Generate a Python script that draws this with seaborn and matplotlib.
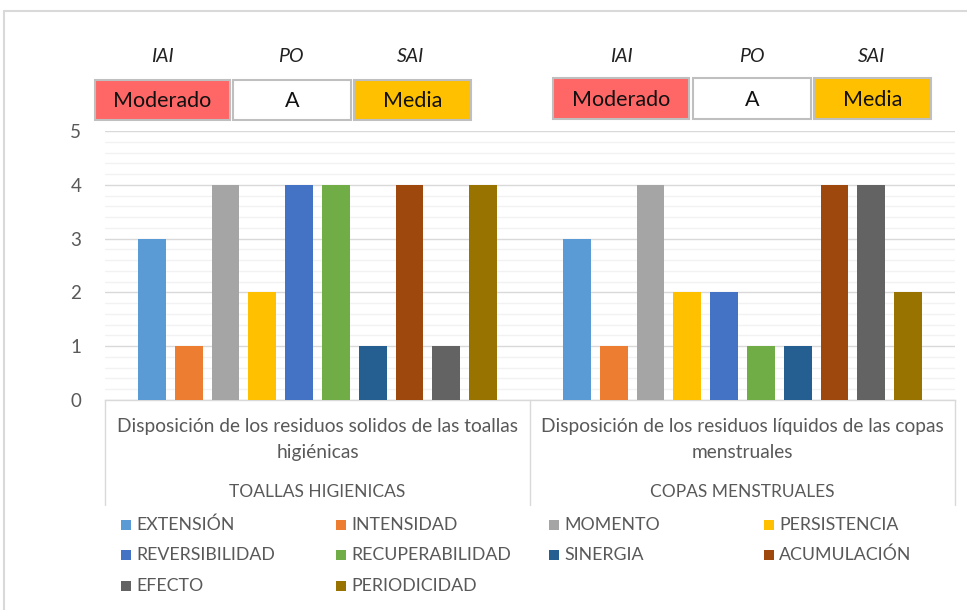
import matplotlib
matplotlib.use("Agg")
import matplotlib.pyplot as plt
import matplotlib.transforms as mtransforms
from matplotlib.patches import Rectangle
from matplotlib.lines import Line2D
import seaborn as sns
import pandas as pd

# ---- data ----
groups = [
    "Disposición de los residuos solidos de las toallas\nhigiénicas",
    "Disposición de los residuos líquidos de las copas\nmenstruales",
]
outer_labels = ["TOALLAS HIGIENICAS", "COPAS MENSTRUALES"]
criteria = ["EXTENSIÓN", "INTENSIDAD", "MOMENTO", "PERSISTENCIA",
            "REVERSIBILIDAD", "RECUPERABILIDAD", "SINERGIA", "ACUMULACIÓN",
            "EFECTO", "PERIODICIDAD"]
toallas_vals = [3, 1, 4, 2, 4, 4, 1, 4, 1, 4]
copas_vals = [3, 1, 4, 2, 2, 1, 1, 4, 4, 2]
colors = ["#5B9BD5", "#ED7D31", "#A5A5A5", "#FFC000", "#4472C4",
          "#70AD47", "#255E91", "#9E480E", "#636363", "#997300"]
header_titles = ["IAI", "PO", "SAI"]
header_values = ["Moderado", "A", "Media"]
header_colors = ["#FF6666", "#FFFFFF", "#FFC000"]

df = pd.DataFrame({
    "grupo": [groups[0]] * len(criteria) + [groups[1]] * len(criteria),
    "criterio": criteria * 2,
    "valor": toallas_vals + copas_vals,
})

sns.set_theme(style="white")
plt.rcParams["font.family"] = ["Lato", "DejaVu Sans"]

W, H = 967, 610
fig = plt.figure(figsize=(W / 100, H / 100), dpi=100)


def fx(x):
    return x / W


def fy(y):
    return 1 - y / H


ax = fig.add_axes([fx(105), fy(400), fx(955) - fx(105), fy(131) - fy(400)])

sns.barplot(data=df, x="grupo", y="valor", hue="criterio", order=groups,
            hue_order=criteria, palette=colors, width=0.866, gap=0.24,
            saturation=1, legend=False, ax=ax, zorder=3, linewidth=0)

ax.set_xlim(-0.5, 1.5)
ax.set_ylim(0, 5)
ax.set_yticks(range(0, 6))
ax.set_yticks([i * 0.2 for i in range(26)], minor=True)
ax.grid(axis="y", which="minor", color="#F2F2F2", lw=1.0, zorder=0)
ax.grid(axis="y", which="major", color="#D9D9D9", lw=1.0, zorder=1)
for s in ["left", "right", "top"]:
    ax.spines[s].set_visible(False)
ax.spines["bottom"].set_color("#D9D9D9")
ax.spines["bottom"].set_linewidth(1.0)
ax.tick_params(axis="y", which="both", length=0, labelsize=13.5,
               labelcolor="#595959", pad=17)
ax.tick_params(axis="x", length=0, labelsize=13.8, labelcolor="#595959", pad=13)
for lbl in ax.get_xticklabels():
    lbl.set_linespacing(1.65)
ax.set_xlabel("")
ax.set_ylabel("")

# multi-level category axis: dividers and outer labels
trans = mtransforms.blended_transform_factory(ax.transData, ax.transAxes)
depth = -105 / 269
for xd in [-0.5, 0.5, 1.5]:
    ax.add_line(Line2D([xd, xd], [0, depth], transform=trans, color="#D9D9D9",
                       lw=1.0, clip_on=False))
for i, lab in enumerate(outer_labels):
    ax.text(i, -92 / 269, lab, transform=trans, ha="center", va="center",
            fontsize=12.5, color="#595959")

# header boxes above each group
box_sets = [
    ([(95, 230), (233, 351), (354, 471)], (80, 120), [162, 291, 411]),
    ([(553, 689), (693, 811), (814, 931)], (78, 119), [621, 752, 872]),
]
for boxes, (y0, y1), title_x in box_sets:
    for (x0, x1), tx, title, val, col in zip(boxes, title_x, header_titles,
                                             header_values, header_colors):
        fig.patches.append(Rectangle((fx(x0), fy(y1)), fx(x1) - fx(x0),
                                     fy(y0) - fy(y1), transform=fig.transFigure,
                                     facecolor=col, edgecolor="#BFBFBF", lw=1.5))
        fig.text(fx((x0 + x1) / 2), fy((y0 + y1) / 2 + 1), val, ha="center",
                 va="center", fontsize=15.5, color="#111111")
        fig.text(fx(tx), fy(57), title, ha="center", va="center",
                 fontsize=14, style="italic", color="#222222")

# legend laid out in rows of four
col_x = [121, 336, 549, 764]
row_y = [525, 555, 586]
for k, (name, col) in enumerate(zip(criteria, colors)):
    r, c = divmod(k, 4)
    x, y = col_x[c], row_y[r]
    fig.patches.append(Rectangle((fx(x), fy(y + 5)), fx(10), 10 / H,
                                 transform=fig.transFigure, facecolor=col,
                                 edgecolor="none"))
    fig.text(fx(x + 15), fy(y), name, ha="left", va="center", fontsize=12.8,
             color="#595959")

# outer chart frame
fig.add_artist(Line2D([fx(4), 1], [fy(11), fy(11)], transform=fig.transFigure,
                      color="#D9D9D9", lw=1.5))
fig.add_artist(Line2D([fx(4), fx(4)], [fy(11), 0], transform=fig.transFigure,
                      color="#D9D9D9", lw=1.5))

fig.savefig("out.png", dpi=100, facecolor="white")
